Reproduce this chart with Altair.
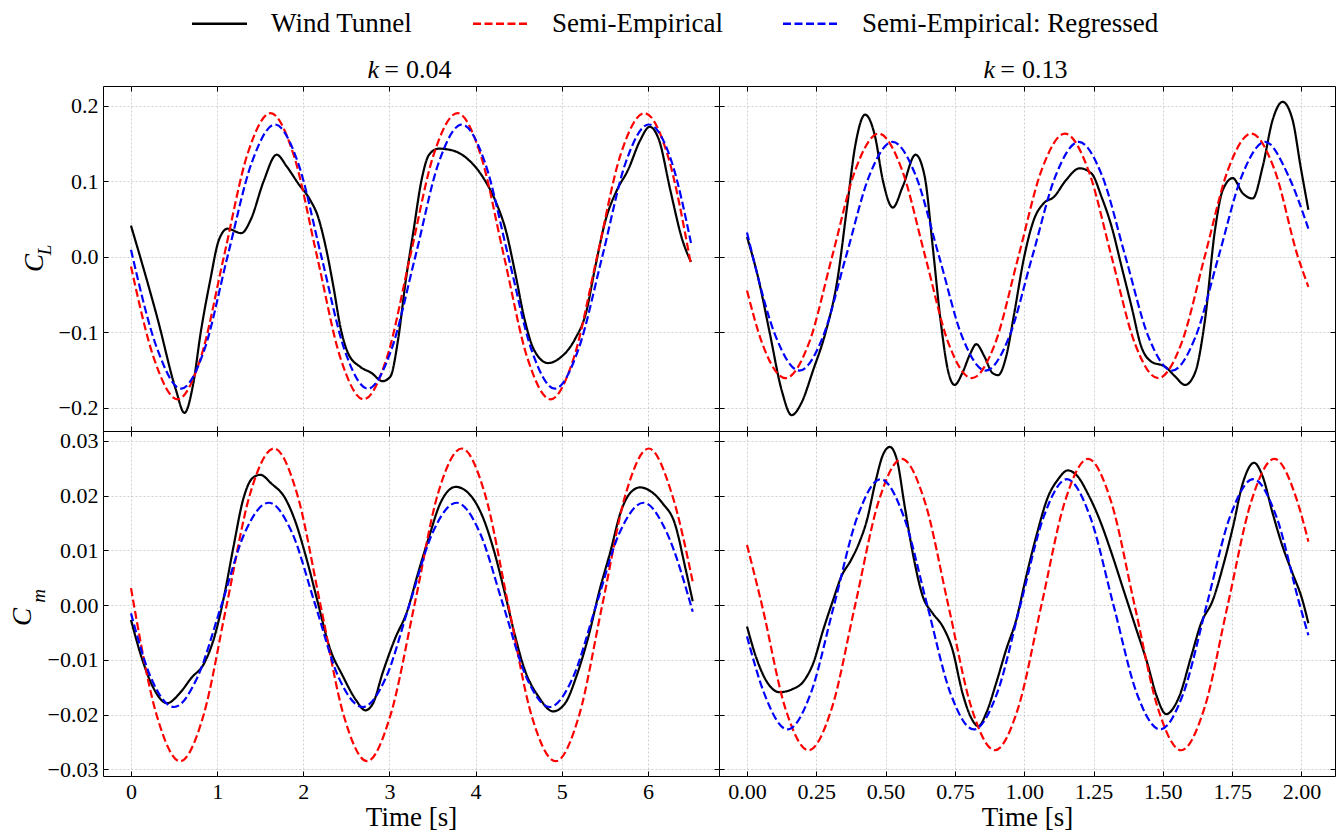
import altair as alt
import pandas as pd

FONT = "Liberation Serif"
SERIES = ["Wind Tunnel", "Semi-Empirical", "Semi-Empirical: Regressed"]
COLORS = ["#000000", "#ff0000", "#0000ff"]
DASHES = [[1, 0], [8, 3.5], [8, 3.5]]

# ---------------- k = 0.04, C_L ----------------
cl04_wt_t = [0.00, 0.31, 0.52, 0.62, 0.72, 0.81, 0.92, 1.02, 1.12, 1.28, 1.39, 1.54, 1.69, 1.81, 1.94,
             2.08, 2.17, 2.26, 2.35, 2.43, 2.52, 2.66, 2.79, 2.92, 3.01, 3.10, 3.19, 3.28, 3.37, 3.46,
             3.57, 3.72, 3.90, 4.08, 4.24, 4.35, 4.46, 4.57, 4.68, 4.84, 4.97, 5.15, 5.28, 5.39, 5.51,
             5.64, 5.77, 5.91, 6.02, 6.13, 6.26, 6.40, 6.50]
cl04_wt_v = [0.041, -0.083, -0.176, -0.207, -0.170, -0.100, -0.031, 0.022, 0.037, 0.031, 0.049, 0.100, 0.135, 0.119, 0.097,
             0.075, 0.053, 0.013, -0.040, -0.093, -0.128, -0.146, -0.154, -0.165, -0.159, -0.110, -0.031, 0.035, 0.100, 0.135,
             0.143, 0.141, 0.130, 0.106, 0.071, 0.035, -0.022, -0.084, -0.124, -0.141, -0.135, -0.110, -0.075, -0.013, 0.049,
             0.088, 0.115, 0.154, 0.172, 0.154, 0.088, 0.022, -0.007]
cl04_se_t = [0.00, 0.27, 0.54, 0.81, 1.08, 1.35, 1.62, 1.89, 2.16, 2.43, 2.70, 2.97, 3.24, 3.51, 3.79,
             4.06, 4.33, 4.60, 4.87, 5.14, 5.41, 5.68, 5.96, 6.23, 6.50]
cl04_se_v = [-0.013, -0.136, -0.189, -0.134, 0.001, 0.135, 0.190, 0.134, 0.000, -0.134, -0.189, -0.134, 0.000, 0.134, 0.190,
             0.134, 0.000, -0.134, -0.189, -0.134, 0.000, 0.134, 0.190, 0.134, -0.011]
cl04_ser_t = [0.00, 0.31, 0.58, 0.85, 1.12, 1.40, 1.67, 1.94, 2.21, 2.48, 2.75, 3.02, 3.30, 3.57, 3.84,
              4.11, 4.38, 4.65, 4.92, 5.19, 5.47, 5.74, 6.01, 6.28, 6.50]
cl04_ser_v = [0.009, -0.124, -0.175, -0.124, 0.000, 0.124, 0.175, 0.124, 0.000, -0.124, -0.175, -0.124, 0.000, 0.124, 0.175,
              0.124, 0.000, -0.124, -0.175, -0.124, 0.000, 0.124, 0.175, 0.124, 0.018]

# ---------------- k = 0.13, C_L ----------------
cl13_wt_t = [0.000, 0.039, 0.082, 0.125, 0.161, 0.196, 0.239, 0.283, 0.326, 0.361, 0.390, 0.426, 0.462, 0.490, 0.526,
             0.562, 0.608, 0.641, 0.670, 0.698, 0.727, 0.749, 0.777, 0.806, 0.827, 0.856, 0.885, 0.906, 0.935, 0.964,
             1.000, 1.035, 1.071, 1.107, 1.150, 1.200, 1.243, 1.279, 1.315, 1.351, 1.387, 1.422, 1.458, 1.509, 1.545,
             1.580, 1.616, 1.652, 1.688, 1.716, 1.752, 1.788, 1.824, 1.860, 1.896, 1.932, 1.968, 1.997, 2.025]
cl13_wt_v = [0.026, -0.026, -0.101, -0.177, -0.210, -0.194, -0.150, -0.101, -0.031, 0.066, 0.146, 0.188, 0.159, 0.101, 0.065,
             0.093, 0.135, 0.106, 0.013, -0.084, -0.154, -0.170, -0.154, -0.128, -0.116, -0.132, -0.154, -0.157, -0.132, -0.075,
             0.000, 0.049, 0.071, 0.079, 0.101, 0.117, 0.110, 0.079, 0.040, -0.013, -0.066, -0.119, -0.139, -0.146, -0.159,
             -0.170, -0.154, -0.084, 0.035, 0.088, 0.104, 0.084, 0.077, 0.119, 0.181, 0.205, 0.181, 0.119, 0.062]
cl13_se_t = [0.000, 0.055, 0.139, 0.223, 0.307, 0.391, 0.475, 0.559, 0.643, 0.727, 0.811, 0.895, 0.979,
             1.063, 1.147, 1.231, 1.315, 1.399, 1.483, 1.567, 1.651, 1.735, 1.819, 1.903, 1.987, 2.025]
cl13_se_v = [-0.045, -0.115, -0.161, -0.115, 0.000, 0.115, 0.163, 0.115, 0.000, -0.115, -0.161, -0.115, 0.000,
             0.115, 0.163, 0.115, 0.000, -0.115, -0.161, -0.115, 0.000, 0.115, 0.163, 0.115, 0.000, -0.040]
cl13_ser_t = [0.000, 0.021, 0.105, 0.189, 0.273, 0.357, 0.441, 0.525, 0.609, 0.693, 0.777, 0.861, 0.945,
              1.029, 1.113, 1.197, 1.281, 1.365, 1.449, 1.533, 1.617, 1.701, 1.785, 1.869, 1.953, 2.025]
cl13_ser_v = [0.032, 0.000, -0.107, -0.151, -0.107, 0.000, 0.107, 0.152, 0.107, 0.000, -0.107, -0.151, -0.107,
              0.000, 0.107, 0.152, 0.107, 0.000, -0.107, -0.151, -0.107, 0.000, 0.107, 0.152, 0.107, 0.037]

# ---------------- k = 0.04, C_m ----------------
cm04_wt_t = [0.00, 0.12, 0.25, 0.42, 0.57, 0.70, 0.85, 0.97, 1.08, 1.19, 1.30, 1.41, 1.50, 1.63, 1.79,
             1.90, 2.03, 2.17, 2.30, 2.46, 2.61, 2.72, 2.81, 2.92, 3.06, 3.21, 3.32, 3.46, 3.59, 3.77,
             3.90, 4.08, 4.21, 4.33, 4.44, 4.57, 4.73, 4.90, 5.04, 5.17, 5.31, 5.44, 5.57, 5.68, 5.79,
             5.91, 6.04, 6.17, 6.31, 6.44, 6.52]
cm04_wt_v = [-0.0027, -0.0094, -0.0148, -0.0179, -0.0160, -0.0133, -0.0106, -0.0057, 0.0016, 0.0107, 0.0192, 0.0232, 0.0238, 0.0222, 0.0195,
             0.0156, 0.0089, 0.0004, -0.0075, -0.0130, -0.0173, -0.0192, -0.0179, -0.0124, -0.0063, -0.0009, 0.0052, 0.0125, 0.0186, 0.0216,
             0.0207, 0.0162, 0.0101, 0.0028, -0.0045, -0.0118, -0.0167, -0.0194, -0.0179, -0.0130, -0.0057, 0.0028, 0.0101, 0.0168, 0.0204,
             0.0215, 0.0207, 0.0186, 0.0150, 0.0064, 0.0007]
cm04_se_t = [0.00, 0.30, 0.57, 0.84, 1.11, 1.38, 1.66, 1.93, 2.20, 2.47, 2.74, 3.01, 3.29, 3.56, 3.84,
             4.11, 4.38, 4.65, 4.93, 5.20, 5.47, 5.74, 6.01, 6.28, 6.52]
cm04_se_v = [0.0031, -0.0202, -0.0285, -0.0202, 0.0000, 0.0202, 0.0286, 0.0202, 0.0000, -0.0202, -0.0285, -0.0202, 0.0000, 0.0202, 0.0286,
             0.0202, 0.0000, -0.0202, -0.0285, -0.0202, 0.0000, 0.0202, 0.0286, 0.0202, 0.0043]
cm04_ser_t = [0.00, 0.23, 0.50, 0.77, 1.05, 1.32, 1.60, 1.87, 2.14, 2.41, 2.69, 2.96, 3.23, 3.50, 3.78,
              4.05, 4.32, 4.59, 4.86, 5.13, 5.40, 5.67, 5.95, 6.22, 6.52]
cm04_ser_v = [-0.0015, -0.0132, -0.0186, -0.0132, 0.0000, 0.0132, 0.0187, 0.0132, 0.0000, -0.0132, -0.0186, -0.0132, 0.0000, 0.0132, 0.0187,
              0.0132, 0.0000, -0.0132, -0.0186, -0.0132, 0.0000, 0.0132, 0.0187, 0.0132, -0.0012]

# ---------------- k = 0.13, C_m ----------------
cm13_wt_t = [0.000, 0.032, 0.067, 0.118, 0.161, 0.204, 0.239, 0.275, 0.311, 0.340, 0.376, 0.404, 0.433, 0.462, 0.490,
             0.515, 0.541, 0.569, 0.598, 0.634, 0.670, 0.706, 0.741, 0.777, 0.806, 0.835, 0.863, 0.899, 0.935, 0.971,
             1.007, 1.043, 1.086, 1.121, 1.157, 1.193, 1.229, 1.272, 1.315, 1.358, 1.401, 1.444, 1.477, 1.512, 1.547,
             1.559, 1.602, 1.638, 1.681, 1.717, 1.753, 1.788, 1.829, 1.860, 1.896, 1.932, 1.968, 2.003, 2.025]
cm13_wt_v = [-0.0039, -0.0094, -0.0136, -0.0159, -0.0154, -0.0139, -0.0106, -0.0045, 0.0010, 0.0052, 0.0083, 0.0113, 0.0156, 0.0222, 0.0274,
             0.0289, 0.0265, 0.0180, 0.0095, 0.0016, -0.0015, -0.0039, -0.0081, -0.0160, -0.0203, -0.0221, -0.0197, -0.0142, -0.0081, -0.0027,
             0.0052, 0.0125, 0.0198, 0.0229, 0.0246, 0.0235, 0.0204, 0.0156, 0.0095, 0.0028, -0.0039, -0.0106, -0.0165, -0.0199, -0.0180,
             -0.0167, -0.0094, -0.0033, 0.0010, 0.0071, 0.0143, 0.0222, 0.0260, 0.0235, 0.0168, 0.0107, 0.0058, 0.0010, -0.0033]
cm13_se_t = [0.000, 0.054, 0.138, 0.222, 0.306, 0.390, 0.474, 0.558, 0.642, 0.726, 0.810, 0.894, 0.978,
             1.062, 1.146, 1.230, 1.314, 1.398, 1.482, 1.566, 1.650, 1.734, 1.818, 1.902, 1.986, 2.025]
cm13_se_v = [0.0110, 0.0000, -0.0188, -0.0265, -0.0188, 0.0000, 0.0188, 0.0267, 0.0188, 0.0000, -0.0188, -0.0265, -0.0188,
             0.0000, 0.0188, 0.0267, 0.0188, 0.0000, -0.0188, -0.0265, -0.0188, 0.0000, 0.0188, 0.0267, 0.0188, 0.0116]
cm13_ser_t = [0.000, 0.062, 0.146, 0.230, 0.314, 0.398, 0.482, 0.566, 0.650, 0.734, 0.818, 0.902, 0.986,
              1.070, 1.154, 1.238, 1.322, 1.406, 1.490, 1.574, 1.658, 1.742, 1.826, 1.910, 1.994, 2.025]
cm13_ser_v = [-0.0057, -0.0161, -0.0227, -0.0161, 0.0000, 0.0161, 0.0230, 0.0161, 0.0000, -0.0161, -0.0227, -0.0161, 0.0000,
              0.0161, 0.0230, 0.0161, 0.0000, -0.0161, -0.0227, -0.0161, 0.0000, 0.0161, 0.0230, 0.0161, 0.0000, -0.0055]

# ---------------- axes ----------------
x04_ticks = [0, 1, 2, 3, 4, 5, 6]
x13_ticks = [0.0, 0.25, 0.5, 0.75, 1.0, 1.25, 1.5, 1.75, 2.0]
cl_ticks = [-0.2, -0.1, 0.0, 0.1, 0.2]
cm_ticks = [-0.03, -0.02, -0.01, 0.0, 0.01, 0.02, 0.03]
x04_dom = [-0.325, 6.825]
x13_dom = [-0.101, 2.121]
cl_dom = [-0.231, 0.226]
cm_dom = [-0.0312, 0.0318]

W = 616
H = 345

LEG = alt.Legend(
    title=None, orient="none", legendX=103, legendY=-76, direction="horizontal",
    symbolType="M-5,0H5", symbolSize=121, symbolStrokeWidth=2.3,
    labelFont=FONT, labelFontSize=27, labelColor="black", labelOffset=38,
    columnPadding=55, labelLimit=0, padding=0,
)

DUMMY = pd.DataFrame({"d": [0]})


def frame(parts):
    out = []
    for name, t, v in parts:
        out.append(pd.DataFrame({"t": t, "v": v, "series": name}))
    return pd.concat(out, ignore_index=True)


def txt(text, x, y, size, italic=False, angle=0, align="center", baseline="middle"):
    return alt.Chart(DUMMY).mark_text(
        text=text, font=FONT, fontSize=size, fontStyle="italic" if italic else "normal",
        angle=angle, align=align, baseline=baseline, color="black",
    ).encode(x=alt.value(x), y=alt.value(y))


def title_parts(num):
    return [txt("k", 276, -8, 26, italic=True, align="right", baseline="alphabetic"),
            txt("=", 288.5, -8, 26, align="center", baseline="alphabetic"),
            txt(num, 303, -8, 26, align="left", baseline="alphabetic")]


def panel(df, xdom, xvals, xfmt, ydom, yvals, yfmt, bottom, left, extra):
    xs = alt.Scale(domain=xdom, nice=False, zero=False)
    ys = alt.Scale(domain=ydom, nice=False, zero=False)
    xaxis = alt.Axis(orient="bottom", values=xvals, format=xfmt, labels=bottom,
                     title="Time [s]" if bottom else None, offset=-5, tickSize=5,
                     domain=False, grid=True, labelPadding=5, titlePadding=2)
    yaxis = alt.Axis(orient="left", values=yvals, format=yfmt, labels=left, title=None,
                     offset=-5, tickSize=5, domain=False, grid=True, labelPadding=5)
    lines = alt.Chart(df).mark_line(strokeWidth=2.2, interpolate="monotone").encode(
        x=alt.X("t:Q", scale=xs, axis=xaxis),
        y=alt.Y("v:Q", scale=ys, axis=yaxis),
        color=alt.Color("series:N", scale=alt.Scale(domain=SERIES, range=COLORS), legend=LEG, sort=SERIES),
        strokeDash=alt.StrokeDash("series:N", scale=alt.Scale(domain=SERIES, range=DASHES), legend=LEG, sort=SERIES),
    )
    ticks = alt.Chart(df).mark_point(opacity=0).encode(
        x=alt.X("t:Q", scale=xs, axis=alt.Axis(orient="top", values=xvals, labels=False, title=None,
                                                offset=-5, tickSize=5, domain=False, grid=False)),
        y=alt.Y("v:Q", scale=ys, axis=alt.Axis(orient="right", values=yvals, labels=False, title=None,
                                                offset=-5, tickSize=5, domain=False, grid=False)),
    )
    return alt.layer(lines, ticks, *extra).resolve_axis(x="independent", y="independent").properties(
        width=W, height=H)


df_cl04 = frame([(SERIES[0], cl04_wt_t, cl04_wt_v), (SERIES[1], cl04_se_t, cl04_se_v), (SERIES[2], cl04_ser_t, cl04_ser_v)])
df_cl13 = frame([(SERIES[0], cl13_wt_t, cl13_wt_v), (SERIES[1], cl13_se_t, cl13_se_v), (SERIES[2], cl13_ser_t, cl13_ser_v)])
df_cm04 = frame([(SERIES[0], cm04_wt_t, cm04_wt_v), (SERIES[1], cm04_se_t, cm04_se_v), (SERIES[2], cm04_ser_t, cm04_ser_v)])
df_cm13 = frame([(SERIES[0], cm13_wt_t, cm13_wt_v), (SERIES[1], cm13_se_t, cm13_se_v), (SERIES[2], cm13_ser_t, cm13_ser_v)])

p1 = panel(df_cl04, x04_dom, x04_ticks, "d", cl_dom, cl_ticks, ".1f", False, True,
           title_parts("0.04") +
           [txt("C", -68, 177, 27, italic=True, angle=270),
            txt("L", -58, 164, 19, italic=True, angle=270)])
p2 = panel(df_cl13, x13_dom, x13_ticks, ".2f", cl_dom, cl_ticks, ".1f", False, False,
           title_parts("0.13"))
p3 = panel(df_cm04, x04_dom, x04_ticks, "d", cm_dom, cm_ticks, ".2f", True, True,
           [txt("C", -80, 186, 27, italic=True, angle=270),
            txt("m", -64, 165, 19, italic=True, angle=270)])
p4 = panel(df_cm13, x13_dom, x13_ticks, ".2f", cm_dom, cm_ticks, ".2f", True, False, [])

chart = alt.concat(p1, p2, p3, p4, columns=2, spacing=0, bounds="flush").resolve_scale(
    x="independent", y="independent", color="shared", strokeDash="shared"
).properties(
    padding={"left": 0, "top": 2, "right": 0, "bottom": 0}
).configure_view(
    stroke="black", strokeWidth=1
).configure_axis(
    labelFont=FONT, labelFontSize=22, labelColor="black",
    titleFont=FONT, titleFontSize=27, titleFontWeight="normal", titleColor="black",
    gridColor="#c4c4c4", gridDash=[2, 2], gridWidth=0.8, tickColor="black", tickWidth=1,
)

chart.save("out.html", embed_options={"renderer": "svg", "actions": False})
